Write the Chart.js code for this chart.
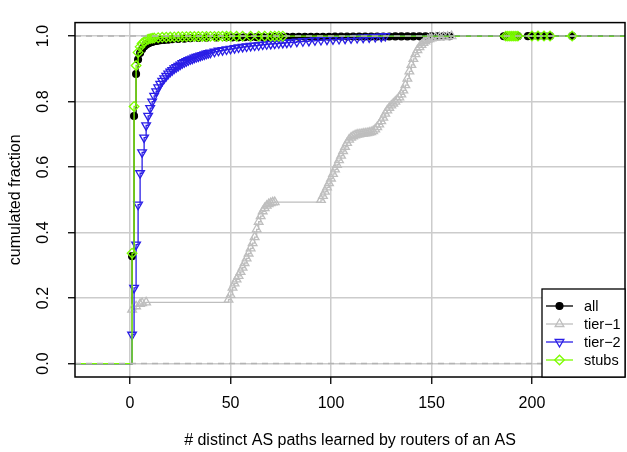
<!DOCTYPE html>
<html>
<head>
<meta charset="utf-8">
<script src="https://cdn.jsdelivr.net/npm/chart.js@4.4.1/dist/chart.umd.min.js"></script>
<style>
  html, body { margin: 0; padding: 0; background: #fff; }
  canvas { display: block; }
</style>
</head>
<body>
<canvas id="ecdf-chart" width="627" height="452"></canvas>
<script>
// Series names as shown in the legend
const seriesNames = ["all", "tier\u22121", "tier\u22122", "stubs"];

// Axis ticks
const xTicks = [0, 50, 100, 150, 200];
const yTicks = [0, 0.2, 0.4, 0.6, 0.8, 1.0];

// Axis range (R style, 4% extension)
const X_MIN = -27.4;
const X_MAX = 246.3;
const Y_MIN = -0.041;
const Y_MAX = 1.041;

// "all" ECDF (number of distinct paths -> cumulated fraction)
const allX = [1, 2, 3, 4, 5, 6, 7, 8, 9, 10, 11, 12, 13, 14, 15,
  17, 19, 21, 24, 27, 30, 34, 38, 43, 48,
  51, 54, 57, 60, 63, 66, 69, 72, 75, 78, 81, 84, 87, 90, 93, 96, 99, 102, 105, 108,
  111, 114, 117, 120, 123, 126, 129, 132, 135, 138, 141, 144, 147, 150, 153, 156, 159,
  186, 187, 188, 189, 190, 191, 192, 193, 198, 200, 203, 206, 209, 220];
const allY = [0.328, 0.756, 0.884, 0.928, 0.948, 0.960, 0.968, 0.973, 0.977, 0.980, 0.982, 0.984, 0.985, 0.986, 0.987,
  0.988, 0.989, 0.990, 0.991, 0.992, 0.993, 0.994, 0.995, 0.9955, 0.996,
  0.996, 0.996, 0.9962, 0.9964, 0.9966, 0.9968, 0.997, 0.997, 0.9972, 0.9974, 0.9975, 0.9976, 0.9977, 0.9978, 0.9979, 0.998, 0.998, 0.9981, 0.9982, 0.9983,
  0.9984, 0.9985, 0.9985, 0.9986, 0.9986, 0.9987, 0.9987, 0.9988, 0.9988, 0.9989, 0.9989, 0.999, 0.999, 0.9991, 0.9991, 0.9992, 0.9992,
  0.9993, 0.9994, 0.9994, 0.9995, 0.9995, 0.9996, 0.9996, 0.9997, 0.9997, 0.9998, 0.9998, 0.9999, 0.9999, 1.0];

// tier-1
const tier1X = [1, 3, 5, 6, 8,
  49, 50, 51, 52, 53, 54, 55, 56, 57, 58, 59, 60, 61, 62, 63, 64, 65, 66, 67, 68, 69, 70, 71, 72,
  95, 96, 97, 98, 99, 100, 101, 102, 103, 104, 105, 106, 107, 108, 109, 110, 111, 112, 113, 114,
  115, 116, 117, 118, 119, 120, 121, 122, 123, 124, 125, 126, 127, 128, 129, 130, 131, 132, 133, 134,
  135, 136, 137, 138, 139, 140, 141, 142, 143, 144, 145, 146, 147, 148, 149, 150,
  152, 154, 156, 158, 160];
const tier1Y = [0.165, 0.175, 0.182, 0.185, 0.187,
  0.195, 0.210, 0.232, 0.245, 0.257, 0.268, 0.280, 0.293, 0.307, 0.321, 0.336, 0.352, 0.368, 0.386, 0.410, 0.433, 0.450, 0.465, 0.475, 0.482, 0.487, 0.490, 0.492, 0.493,
  0.500, 0.512, 0.525, 0.538, 0.551, 0.565, 0.579, 0.593, 0.607, 0.621, 0.635, 0.649, 0.662, 0.674, 0.684, 0.690, 0.694, 0.697, 0.699, 0.700,
  0.701, 0.702, 0.703, 0.704, 0.705, 0.707, 0.710, 0.715, 0.722, 0.730, 0.740, 0.751, 0.763, 0.773, 0.781, 0.788, 0.794, 0.800, 0.806, 0.813,
  0.822, 0.834, 0.850, 0.870, 0.892, 0.912, 0.930, 0.945, 0.957, 0.966, 0.973, 0.979, 0.984, 0.988, 0.991, 0.993,
  0.995, 0.996, 0.997, 0.998, 1.0];

// tier-2
const tier2X = [1, 2, 3, 4, 5, 6, 7, 8, 9, 10, 11, 12, 13, 14, 15, 16, 17, 18, 19, 20,
  21, 22, 23, 24, 25, 26, 27, 28, 29, 30, 31, 32, 33, 34, 35, 36, 37, 38, 39, 40,
  42, 44, 46, 48, 50, 52, 54, 56, 58, 60, 62, 64, 66, 68, 70, 72, 74, 76, 78, 80,
  83, 86, 89, 92, 95, 98, 101, 104, 107, 110, 113, 116, 119, 122, 125, 127];
const tier2Y = [0.088, 0.231, 0.363, 0.485, 0.581, 0.645, 0.690, 0.727, 0.756, 0.780, 0.800, 0.817, 0.831, 0.843, 0.854, 0.863, 0.871, 0.878, 0.885, 0.891,
  0.896, 0.901, 0.905, 0.909, 0.913, 0.917, 0.920, 0.923, 0.926, 0.929, 0.931, 0.934, 0.936, 0.938, 0.940, 0.942, 0.944, 0.946, 0.948, 0.949,
  0.952, 0.955, 0.957, 0.959, 0.961, 0.963, 0.965, 0.967, 0.968, 0.970, 0.971, 0.972, 0.974, 0.975, 0.976, 0.977, 0.978, 0.979, 0.980, 0.981,
  0.983, 0.984, 0.985, 0.987, 0.988, 0.989, 0.990, 0.991, 0.992, 0.993, 0.994, 0.995, 0.996, 0.997, 0.998, 1.0];

// stubs
const stubsX = [1, 2, 3, 4, 5, 6, 7, 8, 9, 10, 11, 12,
  14, 16, 18, 20, 22, 24, 26, 28, 30, 32, 34, 36, 38, 40, 42, 44, 46, 48, 50,
  53, 56, 60, 64, 67, 70, 72, 74, 76,
  187, 188, 189, 190, 191, 192, 193, 200, 203, 206, 209, 220];
const stubsY = [0.337, 0.785, 0.910, 0.950, 0.967, 0.977, 0.983, 0.987, 0.990, 0.992, 0.993, 0.994,
  0.995, 0.996, 0.9965, 0.997, 0.9973, 0.9976, 0.998, 0.9982, 0.9984, 0.9985, 0.9986, 0.9987, 0.9988, 0.9989, 0.999, 0.999, 0.9991, 0.9991, 0.9992,
  0.9993, 0.9993, 0.9994, 0.9994, 0.9995, 0.9995, 0.9996, 0.9996, 0.9996,
  0.9997, 0.9997, 0.9997, 0.9998, 0.9998, 0.9998, 0.9998, 0.9999, 0.9999, 0.9999, 0.9999, 1.0];

const FONT = '"Liberation Sans", Arial, Helvetica, sans-serif';

// Build step function data: starts at 0 on the left edge, ends at 1 on the right edge
function ecdfPoints(xs, ys) {
    const pts = [{ x: X_MIN, y: 0 }];
    xs.forEach((x, i) => pts.push({ x: x, y: ys[i] }));
    pts.push({ x: X_MAX, y: 1 });
    return pts;
}

// Hide the marker on the two edge points
function markerRadius(r) {
    return (ctx) => {
        const n = ctx.dataset.data.length;
        return (ctx.dataIndex === 0 || ctx.dataIndex === n - 1) ? 0 : r;
    };
}

const styles = [
    { color: '#000000', fill: '#000000', pointStyle: 'circle', radius: 3.4, rotation: 0 },
    { color: '#bebebe', fill: 'rgba(0,0,0,0)', pointStyle: 'triangle', radius: 5, rotation: 0 },
    { color: '#2a1ee6', fill: 'rgba(0,0,0,0)', pointStyle: 'triangle', radius: 5, rotation: 180 },
    { color: '#7cfc00', fill: 'rgba(0,0,0,0)', pointStyle: 'rectRot', radius: 4.8, rotation: 0 }
];

const seriesData = [
    ecdfPoints(allX, allY),
    ecdfPoints(tier1X, tier1Y),
    ecdfPoints(tier2X, tier2Y),
    ecdfPoints(stubsX, stubsY)
];

const datasets = seriesData.map((data, i) => ({
    label: seriesNames[i],
    data: data,
    stepped: 'before',
    borderColor: styles[i].color,
    borderWidth: 1.3,
    pointStyle: styles[i].pointStyle,
    pointRotation: styles[i].rotation,
    pointRadius: markerRadius(styles[i].radius),
    pointBorderColor: styles[i].color,
    pointBackgroundColor: styles[i].fill,
    pointBorderWidth: 1.3,
    fill: false,
    order: 4 - i  // later series are drawn on top, like in R
}));

// dashed reference lines at 0 and 1 (drawn on top)
[0, 1].forEach(level => {
    datasets.push({
        label: 'ref' + level,
        data: [{ x: X_MIN, y: level }, { x: X_MAX, y: level }],
        borderColor: '#b3b3b3',
        borderWidth: 1.6,
        borderDash: [6, 5],
        pointRadius: 0,
        fill: false,
        order: 0
    });
});

// Plot frame and R-style boxed legend
const frameAndLegend = {
    id: 'frameAndLegend',
    afterDraw(chart) {
        const { ctx, chartArea } = chart;
        ctx.save();
        ctx.strokeStyle = '#000';
        ctx.lineWidth = 1.5;
        ctx.strokeRect(chartArea.left, chartArea.top, chartArea.right - chartArea.left, chartArea.bottom - chartArea.top);

        // legend box
        const boxW = 83, boxH = 88;
        const left = chartArea.right - boxW;
        const top = chartArea.bottom - boxH;
        ctx.fillStyle = '#fff';
        ctx.fillRect(left, top, boxW, boxH);
        ctx.lineWidth = 1.3;
        ctx.strokeRect(left, top, boxW, boxH);

        ctx.font = '14.5px ' + FONT;
        ctx.textBaseline = 'middle';
        ctx.textAlign = 'left';
        seriesNames.forEach((name, i) => {
            const y = top + 17 + i * 18;
            const st = styles[i];
            ctx.strokeStyle = st.color;
            ctx.lineWidth = 1.3;
            ctx.beginPath();
            ctx.moveTo(left + 4, y);
            ctx.lineTo(left + 31, y);
            ctx.stroke();
            ctx.fillStyle = st.fill;
            ctx.lineWidth = 1.3;
            Chart.helpers.drawPoint(ctx, {
                pointStyle: st.pointStyle,
                radius: st.radius,
                rotation: st.rotation,
                borderWidth: 1.3
            }, left + 17.5, y);
            ctx.fillStyle = '#000';
            ctx.fillText(name, left + 42, y + 1);
        });
        ctx.restore();
    }
};

function drawChart() {
    const ctx = document.getElementById('ecdf-chart').getContext('2d');

    new Chart(ctx, {
        type: 'line',
        data: { datasets: datasets },
        options: {
            responsive: false,
            animation: false,
            devicePixelRatio: 1,
            layout: { padding: { left: 0, right: 2, top: 8, bottom: 0 } },
            plugins: {
                legend: { display: false },
                tooltip: { enabled: false }
            },
            scales: {
                x: {
                    type: 'linear',
                    min: X_MIN,
                    max: X_MAX,
                    afterBuildTicks: (scale) => { scale.ticks = xTicks.map(v => ({ value: v })); },
                    afterFit: (scale) => { scale.height = 75; },
                    border: { display: false },
                    grid: { color: '#cccccc', lineWidth: 1.5, tickColor: '#000', tickLength: 7, tickWidth: 1.3 },
                    ticks: {
                        color: '#000',
                        font: { family: FONT, size: 16 },
                        padding: 10,
                        maxRotation: 0,
                        autoSkip: false,
                        callback: (v) => String(v)
                    },
                    title: {
                        display: true,
                        text: '# distinct AS paths learned by routers of an AS',
                        color: '#000',
                        font: { family: FONT, size: 16 },
                        padding: { top: 0, bottom: 2 }
                    }
                },
                y: {
                    type: 'linear',
                    min: Y_MIN,
                    max: Y_MAX,
                    afterBuildTicks: (scale) => { scale.ticks = yTicks.map(v => ({ value: v })); },
                    afterFit: (scale) => { scale.width = 75; },
                    border: { display: false },
                    grid: { color: '#cccccc', lineWidth: 1.5, tickColor: '#000', tickLength: 7, tickWidth: 1.3 },
                    ticks: {
                        color: '#000',
                        font: { family: FONT, size: 16 },
                        padding: 13,
                        minRotation: 90,
                        maxRotation: 90,
                        crossAlign: 'center',
                        autoSkip: false,
                        callback: (v) => Number(v).toFixed(1)
                    },
                    title: {
                        display: true,
                        text: 'cumulated fraction',
                        color: '#000',
                        font: { family: FONT, size: 16 },
                        padding: { top: 6, bottom: 0 }
                    }
                }
            }
        },
        plugins: [frameAndLegend]
    });
}

window.addEventListener('load', () => {
    drawChart();
});
</script>
</body>
</html>
